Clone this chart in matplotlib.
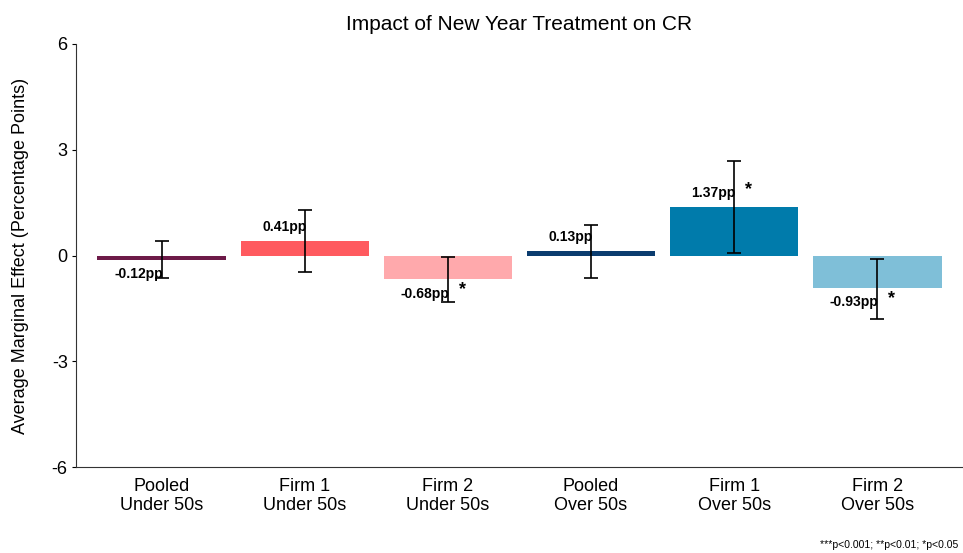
import numpy as np
import matplotlib.pyplot as plt

plt.rcParams['font.family'] = ['Liberation Sans', 'DejaVu Sans']

groups = ["Pooled\nUnder 50s", "Firm 1\nUnder 50s", "Firm 2\nUnder 50s",
          "Pooled\nOver 50s", "Firm 1\nOver 50s", "Firm 2\nOver 50s"]
effects = [-0.12, 0.41, -0.68, 0.13, 1.37, -0.93]
ci_low = [-0.65, -0.48, -1.33, -0.63, 0.06, -1.79]
ci_high = [0.40, 1.30, -0.05, 0.86, 2.69, -0.11]
stars = ["", "", "*", "", "*", "*"]
colors = ["#6d1a48", "#ff5a5f", "#ffa9ac", "#0b3c6f", "#007bab", "#7fbfd8"]

x = np.arange(1, len(groups) + 1)

fig = plt.figure(figsize=(9.63, 5.53), dpi=100)
ax = fig.add_axes([76/963, 86/553, 887/963, 423/553])

ax.bar(x, effects, width=0.9, color=colors, zorder=1)
ax.errorbar(x, effects,
            yerr=[np.array(effects) - np.array(ci_low), np.array(ci_high) - np.array(effects)],
            fmt="none", ecolor="black", elinewidth=1.2, capsize=5, capthick=1.2, zorder=2)

for xi, v, s in zip(x, effects, stars):
    ty = v + 0.4 if v > 0 else v - 0.4
    ax.text(xi + 0.01, ty, f"{v:.2f}pp", ha="right", va="center",
            fontsize=10, fontweight="bold", zorder=3)
    if s:
        ax.text(xi + 0.1, ty + 0.1, s, ha="center", va="center",
                fontsize=13, fontweight="bold", zorder=3)

ax.set_xlim(0.4, 6.6)
ax.set_ylim(-6, 6)
ax.set_yticks([-6, -3, 0, 3, 6])
ax.set_yticklabels(["-6", "-3", "0", "3", "6"])
ax.set_xticks(x)
ax.set_xticklabels(groups, fontsize=13, linespacing=1.15)
ax.tick_params(axis="x", length=0, pad=8)
ax.tick_params(axis="y", length=3, labelsize=13, pad=3)

ax.spines["top"].set_visible(False)
ax.spines["right"].set_visible(False)
ax.spines["left"].set_color("#333333")
ax.spines["bottom"].set_color("#333333")

ax.set_ylabel("Average Marginal Effect (Percentage Points)", fontsize=13, labelpad=16)
ax.set_title("Impact of New Year Treatment on CR", fontsize=15, pad=10)

fig.text(958/963, 1 - 545/553, "***p<0.001; **p<0.01; *p<0.05",
         ha="right", va="center", fontsize=7.5)

fig.savefig("out.png", dpi=100)
